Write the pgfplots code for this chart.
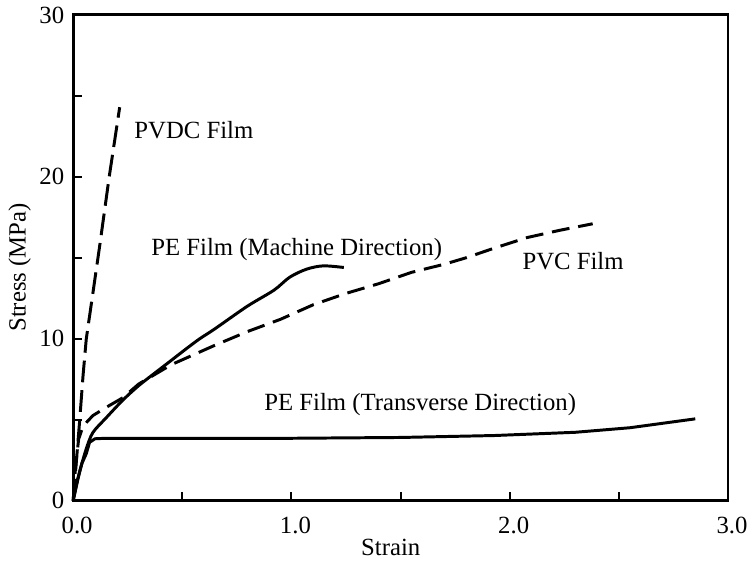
\documentclass[border=0pt]{standalone}
\usepackage{fontspec}
\setmainfont{Liberation Serif}
\usepackage{pgfplots}
\pgfplotsset{compat=1.18}
\begin{document}
\begin{tikzpicture}[font=\fontsize{12.5}{14}\selectfont]
\begin{axis}[
  name=ax,
  scale only axis,
  width=331pt, height=245.5pt,
  xmin=0, xmax=3, ymin=0, ymax=30,
  xtick={0,1,2,3}, xticklabels={0.0,1.0,2.0,3.0},
  minor xtick={0.5,1.5,2.5},
  ytick={0,10,20,30}, minor ytick={5,15,25},
  xtick pos=bottom, ytick pos=left,
  tick align=inside,
  major tick length=4.5pt, minor tick length=4.5pt,
  every tick/.style={black, line width=1pt},
  axis line style={line width=1.5pt},
  /pgf/number format/assume math mode=true,
  tick label style={font=\fontsize{12.5}{14}\selectfont},
  xticklabel style={yshift=-5pt, xshift=2pt},
  yticklabel style={xshift=-1pt},
  xlabel={Strain}, ylabel={Stress (MPa)},
  xlabel style={at={(axis description cs:0.485,-0.0876)}, anchor=center, yshift=-2pt, font=\fontsize{12.5}{14}\selectfont},
  ylabel style={at={(axis description cs:-0.0816,0.48)}, anchor=center, font=\fontsize{12.5}{14}\selectfont},
  clip=false,
]
% PVDC film
\addplot[black, line width=1.5pt, dash pattern=on 11pt off 4pt] coordinates {
(0,0) (0.015,2.5) (0.03,5) (0.045,7.7) (0.06,10) (0.09,12.8) (0.12,15.6) (0.165,20) (0.213,24.3)};
% PVC film
\addplot[black, line width=1.5pt, dash pattern=on 9pt off 4.5pt] coordinates {
(0,0) (0.01,2) (0.025,3.8) (0.045,4.6) (0.09,5.25) (0.15,5.75) (0.227,6.35) (0.3,7.2) (0.45,8.4) (0.65,9.6) (0.8,10.45) (0.95,11.2) (1.1,12.1) (1.25,12.8) (1.4,13.4) (1.55,14.1) (1.7,14.6) (1.8,15.0) (1.93,15.6) (2.08,16.25) (2.23,16.7) (2.38,17.1)};
% PE film machine direction
\addplot[black, line width=1.5pt, smooth] coordinates {
(0,0) (0.03,1.8) (0.06,3.2) (0.09,4.2) (0.15,5.1) (0.227,6.2) (0.3,7.1) (0.376,7.9) (0.453,8.7) (0.52,9.4) (0.58,10.0) (0.648,10.6) (0.797,12.0) (0.92,13.0) (0.992,13.8) (1.07,14.3) (1.146,14.5) (1.24,14.4)};
% PE film transverse direction
\addplot[black, line width=1.5pt] coordinates {
(0,0) (0.02,1.3) (0.04,2.3) (0.06,2.9) (0.075,3.6) (0.1,3.82) (0.15,3.85) (0.5,3.85) (1.0,3.85) (1.5,3.9) (1.93,4.02) (2.3,4.22) (2.55,4.5) (2.85,5.05)};
\node at (axis cs:0.553,22.9) {PVDC Film};
\node at (axis cs:1.024,15.5) {PE Film (Machine Direction)};
\node at (axis cs:2.29,14.8) {PVC Film};
\node at (axis cs:1.59,5.93) {PE Film (Transverse Direction)};
\end{axis}
\path ([xshift=-37pt,yshift=-26.5pt]ax.south west) rectangle ([xshift=9pt,yshift=7.5pt]ax.north east);
\end{tikzpicture}
\end{document}
